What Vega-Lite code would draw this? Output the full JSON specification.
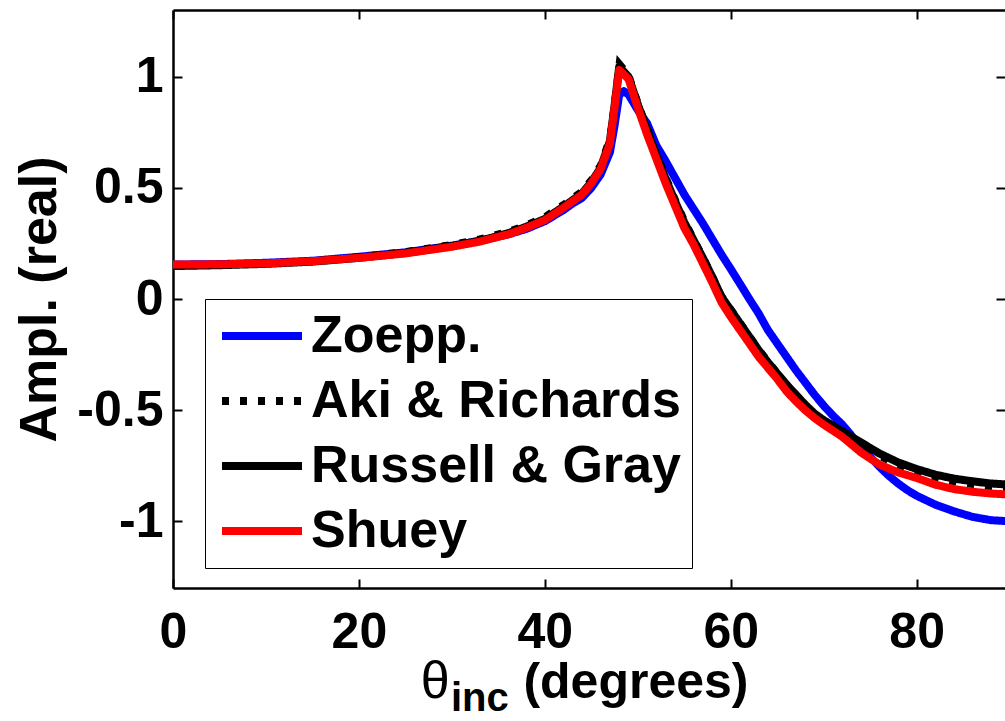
{
  "$schema": "https://vega.github.io/schema/vega-lite/v6.json",
  "width": 832,
  "height": 578,
  "autosize": "none",
  "padding": {"left": 173, "top": 10, "right": 0, "bottom": 133},
  "background": "white",
  "config": {
    "view": {"stroke": null},
    "axis": {"domainColor": "black", "domainWidth": 2.5, "tickColor": "black", "tickWidth": 2, "tickSize": -9, "labelFont": "Liberation Sans", "labelFontWeight": "bold", "labelFontSize": 50, "labelColor": "black", "grid": false, "titleFont": "Liberation Sans", "titleFontWeight": "bold", "titleFontSize": 52, "titleColor": "black", "labelOverlap": false, "labelFlush": false},
    "legend": {"orient": "none", "legendX": 32, "legendY": 289, "title": null, "symbolType": "M-2,0H2", "symbolSize": 1600, "symbolStrokeWidth": 8, "symbolOffset": 20, "labelFont": "Liberation Sans", "labelFontWeight": "bold", "labelFontSize": 52, "labelColor": "black", "labelOffset": 23, "labelLimit": 600, "padding": 11, "rowPadding": 13, "strokeColor": "black", "fillColor": "white", "cornerRadius": 0}
  },
  "datasets": {
    "curves": [
      {"angle": 0, "model": "Zoepp.", "amp": 0.155}, {"angle": 5, "model": "Zoepp.", "amp": 0.157}, {"angle": 10, "model": "Zoepp.", "amp": 0.163}, {"angle": 15, "model": "Zoepp.", "amp": 0.172}, {"angle": 20, "model": "Zoepp.", "amp": 0.19}, {"angle": 25, "model": "Zoepp.", "amp": 0.21}, {"angle": 30, "model": "Zoepp.", "amp": 0.24}, {"angle": 33, "model": "Zoepp.", "amp": 0.262}, {"angle": 36, "model": "Zoepp.", "amp": 0.29}, {"angle": 38, "model": "Zoepp.", "amp": 0.315}, {"angle": 40, "model": "Zoepp.", "amp": 0.35}, {"angle": 42, "model": "Zoepp.", "amp": 0.4}, {"angle": 43, "model": "Zoepp.", "amp": 0.43}, {"angle": 44, "model": "Zoepp.", "amp": 0.455}, {"angle": 45, "model": "Zoepp.", "amp": 0.5}, {"angle": 46, "model": "Zoepp.", "amp": 0.56}, {"angle": 47, "model": "Zoepp.", "amp": 0.66}, {"angle": 47.5, "model": "Zoepp.", "amp": 0.78}, {"angle": 48, "model": "Zoepp.", "amp": 0.92}, {"angle": 48.5, "model": "Zoepp.", "amp": 0.935}, {"angle": 49, "model": "Zoepp.", "amp": 0.92}, {"angle": 50, "model": "Zoepp.", "amp": 0.85}, {"angle": 51, "model": "Zoepp.", "amp": 0.79}, {"angle": 52, "model": "Zoepp.", "amp": 0.69}, {"angle": 53, "model": "Zoepp.", "amp": 0.62}, {"angle": 54, "model": "Zoepp.", "amp": 0.545}, {"angle": 55, "model": "Zoepp.", "amp": 0.47}, {"angle": 56, "model": "Zoepp.", "amp": 0.405}, {"angle": 57, "model": "Zoepp.", "amp": 0.34}, {"angle": 58, "model": "Zoepp.", "amp": 0.27}, {"angle": 59, "model": "Zoepp.", "amp": 0.2}, {"angle": 60, "model": "Zoepp.", "amp": 0.135}, {"angle": 61, "model": "Zoepp.", "amp": 0.068}, {"angle": 62, "model": "Zoepp.", "amp": 0.0}, {"angle": 63, "model": "Zoepp.", "amp": -0.065}, {"angle": 64, "model": "Zoepp.", "amp": -0.14}, {"angle": 65, "model": "Zoepp.", "amp": -0.2}, {"angle": 66, "model": "Zoepp.", "amp": -0.26}, {"angle": 67, "model": "Zoepp.", "amp": -0.32}, {"angle": 68, "model": "Zoepp.", "amp": -0.375}, {"angle": 69, "model": "Zoepp.", "amp": -0.43}, {"angle": 70, "model": "Zoepp.", "amp": -0.48}, {"angle": 71, "model": "Zoepp.", "amp": -0.525}, {"angle": 72, "model": "Zoepp.", "amp": -0.565}, {"angle": 73, "model": "Zoepp.", "amp": -0.615}, {"angle": 74, "model": "Zoepp.", "amp": -0.665}, {"angle": 75, "model": "Zoepp.", "amp": -0.71}, {"angle": 76, "model": "Zoepp.", "amp": -0.755}, {"angle": 77, "model": "Zoepp.", "amp": -0.795}, {"angle": 78, "model": "Zoepp.", "amp": -0.83}, {"angle": 79, "model": "Zoepp.", "amp": -0.86}, {"angle": 80, "model": "Zoepp.", "amp": -0.885}, {"angle": 82, "model": "Zoepp.", "amp": -0.925}, {"angle": 84, "model": "Zoepp.", "amp": -0.955}, {"angle": 86, "model": "Zoepp.", "amp": -0.98}, {"angle": 88, "model": "Zoepp.", "amp": -0.995}, {"angle": 90, "model": "Zoepp.", "amp": -1.0},

      {"angle": 0, "model": "Aki & Richards", "amp": 0.152}, {"angle": 5, "model": "Aki & Richards", "amp": 0.155}, {"angle": 10, "model": "Aki & Richards", "amp": 0.161}, {"angle": 15, "model": "Aki & Richards", "amp": 0.172}, {"angle": 20, "model": "Aki & Richards", "amp": 0.19}, {"angle": 25, "model": "Aki & Richards", "amp": 0.213}, {"angle": 30, "model": "Aki & Richards", "amp": 0.245}, {"angle": 33, "model": "Aki & Richards", "amp": 0.27}, {"angle": 36, "model": "Aki & Richards", "amp": 0.303}, {"angle": 38, "model": "Aki & Richards", "amp": 0.333}, {"angle": 40, "model": "Aki & Richards", "amp": 0.37}, {"angle": 42, "model": "Aki & Richards", "amp": 0.425}, {"angle": 43, "model": "Aki & Richards", "amp": 0.455}, {"angle": 44, "model": "Aki & Richards", "amp": 0.485}, {"angle": 45, "model": "Aki & Richards", "amp": 0.537}, {"angle": 46, "model": "Aki & Richards", "amp": 0.603}, {"angle": 47, "model": "Aki & Richards", "amp": 0.725}, {"angle": 47.5, "model": "Aki & Richards", "amp": 0.885}, {"angle": 48, "model": "Aki & Richards", "amp": 1.06}, {"angle": 49, "model": "Aki & Richards", "amp": 1.01}, {"angle": 50, "model": "Aki & Richards", "amp": 0.885}, {"angle": 51, "model": "Aki & Richards", "amp": 0.77}, {"angle": 52, "model": "Aki & Richards", "amp": 0.655}, {"angle": 53, "model": "Aki & Richards", "amp": 0.55}, {"angle": 54, "model": "Aki & Richards", "amp": 0.45}, {"angle": 55, "model": "Aki & Richards", "amp": 0.355}, {"angle": 56, "model": "Aki & Richards", "amp": 0.272}, {"angle": 57, "model": "Aki & Richards", "amp": 0.19}, {"angle": 58, "model": "Aki & Richards", "amp": 0.105}, {"angle": 59, "model": "Aki & Richards", "amp": 0.015}, {"angle": 60, "model": "Aki & Richards", "amp": -0.045}, {"angle": 61, "model": "Aki & Richards", "amp": -0.105}, {"angle": 62, "model": "Aki & Richards", "amp": -0.165}, {"angle": 63, "model": "Aki & Richards", "amp": -0.225}, {"angle": 64, "model": "Aki & Richards", "amp": -0.28}, {"angle": 65, "model": "Aki & Richards", "amp": -0.332}, {"angle": 66, "model": "Aki & Richards", "amp": -0.383}, {"angle": 67, "model": "Aki & Richards", "amp": -0.43}, {"angle": 68, "model": "Aki & Richards", "amp": -0.477}, {"angle": 69, "model": "Aki & Richards", "amp": -0.518}, {"angle": 70, "model": "Aki & Richards", "amp": -0.55}, {"angle": 72, "model": "Aki & Richards", "amp": -0.605}, {"angle": 74, "model": "Aki & Richards", "amp": -0.655}, {"angle": 76, "model": "Aki & Richards", "amp": -0.707}, {"angle": 78, "model": "Aki & Richards", "amp": -0.748}, {"angle": 80, "model": "Aki & Richards", "amp": -0.778}, {"angle": 82, "model": "Aki & Richards", "amp": -0.803}, {"angle": 84, "model": "Aki & Richards", "amp": -0.822}, {"angle": 86, "model": "Aki & Richards", "amp": -0.835}, {"angle": 88, "model": "Aki & Richards", "amp": -0.845}, {"angle": 90, "model": "Aki & Richards", "amp": -0.85},

      {"angle": 0, "model": "Russell & Gray", "amp": 0.148}, {"angle": 5, "model": "Russell & Gray", "amp": 0.152}, {"angle": 10, "model": "Russell & Gray", "amp": 0.158}, {"angle": 15, "model": "Russell & Gray", "amp": 0.168}, {"angle": 20, "model": "Russell & Gray", "amp": 0.185}, {"angle": 25, "model": "Russell & Gray", "amp": 0.207}, {"angle": 30, "model": "Russell & Gray", "amp": 0.238}, {"angle": 33, "model": "Russell & Gray", "amp": 0.262}, {"angle": 36, "model": "Russell & Gray", "amp": 0.295}, {"angle": 38, "model": "Russell & Gray", "amp": 0.325}, {"angle": 40, "model": "Russell & Gray", "amp": 0.36}, {"angle": 42, "model": "Russell & Gray", "amp": 0.415}, {"angle": 43, "model": "Russell & Gray", "amp": 0.445}, {"angle": 44, "model": "Russell & Gray", "amp": 0.475}, {"angle": 45, "model": "Russell & Gray", "amp": 0.525}, {"angle": 46, "model": "Russell & Gray", "amp": 0.59}, {"angle": 47, "model": "Russell & Gray", "amp": 0.71}, {"angle": 47.5, "model": "Russell & Gray", "amp": 0.87}, {"angle": 48, "model": "Russell & Gray", "amp": 1.045}, {"angle": 49, "model": "Russell & Gray", "amp": 1.0}, {"angle": 50, "model": "Russell & Gray", "amp": 0.875}, {"angle": 51, "model": "Russell & Gray", "amp": 0.76}, {"angle": 52, "model": "Russell & Gray", "amp": 0.645}, {"angle": 53, "model": "Russell & Gray", "amp": 0.54}, {"angle": 54, "model": "Russell & Gray", "amp": 0.44}, {"angle": 55, "model": "Russell & Gray", "amp": 0.345}, {"angle": 56, "model": "Russell & Gray", "amp": 0.265}, {"angle": 57, "model": "Russell & Gray", "amp": 0.185}, {"angle": 58, "model": "Russell & Gray", "amp": 0.1}, {"angle": 59, "model": "Russell & Gray", "amp": 0.01}, {"angle": 60, "model": "Russell & Gray", "amp": -0.05}, {"angle": 61, "model": "Russell & Gray", "amp": -0.11}, {"angle": 62, "model": "Russell & Gray", "amp": -0.17}, {"angle": 63, "model": "Russell & Gray", "amp": -0.23}, {"angle": 64, "model": "Russell & Gray", "amp": -0.285}, {"angle": 65, "model": "Russell & Gray", "amp": -0.335}, {"angle": 66, "model": "Russell & Gray", "amp": -0.385}, {"angle": 67, "model": "Russell & Gray", "amp": -0.43}, {"angle": 68, "model": "Russell & Gray", "amp": -0.475}, {"angle": 69, "model": "Russell & Gray", "amp": -0.515}, {"angle": 70, "model": "Russell & Gray", "amp": -0.545}, {"angle": 72, "model": "Russell & Gray", "amp": -0.595}, {"angle": 74, "model": "Russell & Gray", "amp": -0.645}, {"angle": 76, "model": "Russell & Gray", "amp": -0.695}, {"angle": 78, "model": "Russell & Gray", "amp": -0.735}, {"angle": 80, "model": "Russell & Gray", "amp": -0.765}, {"angle": 82, "model": "Russell & Gray", "amp": -0.79}, {"angle": 84, "model": "Russell & Gray", "amp": -0.808}, {"angle": 86, "model": "Russell & Gray", "amp": -0.82}, {"angle": 88, "model": "Russell & Gray", "amp": -0.83}, {"angle": 90, "model": "Russell & Gray", "amp": -0.835},

      {"angle": 0, "model": "Shuey", "amp": 0.155}, {"angle": 5, "model": "Shuey", "amp": 0.156}, {"angle": 10, "model": "Shuey", "amp": 0.16}, {"angle": 15, "model": "Shuey", "amp": 0.17}, {"angle": 20, "model": "Shuey", "amp": 0.185}, {"angle": 25, "model": "Shuey", "amp": 0.205}, {"angle": 30, "model": "Shuey", "amp": 0.235}, {"angle": 33, "model": "Shuey", "amp": 0.258}, {"angle": 36, "model": "Shuey", "amp": 0.29}, {"angle": 38, "model": "Shuey", "amp": 0.32}, {"angle": 40, "model": "Shuey", "amp": 0.355}, {"angle": 42, "model": "Shuey", "amp": 0.41}, {"angle": 43, "model": "Shuey", "amp": 0.44}, {"angle": 44, "model": "Shuey", "amp": 0.47}, {"angle": 45, "model": "Shuey", "amp": 0.52}, {"angle": 46, "model": "Shuey", "amp": 0.585}, {"angle": 47, "model": "Shuey", "amp": 0.7}, {"angle": 47.5, "model": "Shuey", "amp": 0.86}, {"angle": 48, "model": "Shuey", "amp": 1.03}, {"angle": 49, "model": "Shuey", "amp": 0.99}, {"angle": 50, "model": "Shuey", "amp": 0.86}, {"angle": 51, "model": "Shuey", "amp": 0.74}, {"angle": 52, "model": "Shuey", "amp": 0.63}, {"angle": 53, "model": "Shuey", "amp": 0.52}, {"angle": 54, "model": "Shuey", "amp": 0.42}, {"angle": 55, "model": "Shuey", "amp": 0.32}, {"angle": 56, "model": "Shuey", "amp": 0.245}, {"angle": 57, "model": "Shuey", "amp": 0.16}, {"angle": 58, "model": "Shuey", "amp": 0.075}, {"angle": 59, "model": "Shuey", "amp": -0.015}, {"angle": 60, "model": "Shuey", "amp": -0.08}, {"angle": 61, "model": "Shuey", "amp": -0.14}, {"angle": 62, "model": "Shuey", "amp": -0.2}, {"angle": 63, "model": "Shuey", "amp": -0.26}, {"angle": 64, "model": "Shuey", "amp": -0.31}, {"angle": 65, "model": "Shuey", "amp": -0.36}, {"angle": 66, "model": "Shuey", "amp": -0.415}, {"angle": 67, "model": "Shuey", "amp": -0.46}, {"angle": 68, "model": "Shuey", "amp": -0.5}, {"angle": 69, "model": "Shuey", "amp": -0.535}, {"angle": 70, "model": "Shuey", "amp": -0.565}, {"angle": 72, "model": "Shuey", "amp": -0.62}, {"angle": 74, "model": "Shuey", "amp": -0.69}, {"angle": 76, "model": "Shuey", "amp": -0.745}, {"angle": 78, "model": "Shuey", "amp": -0.78}, {"angle": 80, "model": "Shuey", "amp": -0.805}, {"angle": 82, "model": "Shuey", "amp": -0.835}, {"angle": 84, "model": "Shuey", "amp": -0.855}, {"angle": 86, "model": "Shuey", "amp": -0.867}, {"angle": 88, "model": "Shuey", "amp": -0.875}, {"angle": 90, "model": "Shuey", "amp": -0.88}
    ]
  },
  "data": {"name": "curves"},
  "resolve": {"axis": {"x": "independent", "y": "independent"}},
  "layer": [
    {
      "transform": [{"filter": "datum.model === 'Zoepp.'"}],
      "mark": {"type": "line", "strokeWidth": 8, "strokeJoin": "round"},
      "encoding": {
        "x": {"field": "angle", "type": "quantitative", "scale": {"domain": [0, 89.5], "nice": false, "zero": false}, "axis": {"orient": "bottom", "values": [0, 20, 40, 60, 80], "title": null, "labelPadding": 28}},
        "y": {"field": "amp", "type": "quantitative", "scale": {"domain": [-1.3, 1.3], "nice": false, "zero": false}, "axis": {"orient": "left", "values": [-1, -0.5, 0, 0.5, 1], "title": "Ampl. (real)", "labelPadding": 19, "titlePadding": 10, "labelExpr": "toString(datum.value)"}},
        "color": {"field": "model", "type": "nominal", "scale": {"domain": ["Zoepp.", "Aki & Richards", "Russell & Gray", "Shuey"], "range": ["#0000ff", "#000000", "#000000", "#ff0000"]}},
        "strokeDash": {"field": "model", "type": "nominal", "scale": {"domain": ["Zoepp.", "Aki & Richards", "Russell & Gray", "Shuey"], "range": [[1, 0], [7, 11], [1, 0], [1, 0]]}}
      }
    },
    {
      "transform": [{"filter": "datum.model === 'Aki & Richards'"}],
      "mark": {"type": "line", "strokeWidth": 7},
      "encoding": {
        "x": {"field": "angle", "type": "quantitative", "scale": {"domain": [0, 89.5], "nice": false, "zero": false}, "axis": null},
        "y": {"field": "amp", "type": "quantitative", "scale": {"domain": [-1.3, 1.3], "nice": false, "zero": false}, "axis": null},
        "color": {"field": "model", "type": "nominal"},
        "strokeDash": {"field": "model", "type": "nominal"}
      }
    },
    {
      "transform": [{"filter": "datum.model === 'Russell & Gray'"}],
      "mark": {"type": "line", "strokeWidth": 8, "strokeJoin": "round"},
      "encoding": {
        "x": {"field": "angle", "type": "quantitative", "scale": {"domain": [0, 89.5], "nice": false, "zero": false}, "axis": null},
        "y": {"field": "amp", "type": "quantitative", "scale": {"domain": [-1.3, 1.3], "nice": false, "zero": false}, "axis": null},
        "color": {"field": "model", "type": "nominal"},
        "strokeDash": {"field": "model", "type": "nominal"}
      }
    },
    {
      "transform": [{"filter": "datum.model === 'Shuey'"}],
      "mark": {"type": "line", "strokeWidth": 8, "strokeJoin": "round"},
      "encoding": {
        "x": {"field": "angle", "type": "quantitative", "scale": {"domain": [0, 89.5], "nice": false, "zero": false}, "axis": null},
        "y": {"field": "amp", "type": "quantitative", "scale": {"domain": [-1.3, 1.3], "nice": false, "zero": false}, "axis": null},
        "color": {"field": "model", "type": "nominal"},
        "strokeDash": {"field": "model", "type": "nominal"}
      }
    },
    {
      "mark": {"type": "point", "opacity": 0},
      "encoding": {
        "x": {"field": "angle", "type": "quantitative", "scale": {"domain": [0, 89.5], "nice": false, "zero": false}, "axis": {"orient": "top", "values": [0, 20, 40, 60, 80], "labels": false, "title": null}},
        "y": {"field": "amp", "type": "quantitative", "scale": {"domain": [-1.3, 1.3], "nice": false, "zero": false}, "axis": {"orient": "right", "values": [-1, -0.5, 0, 0.5, 1], "labels": false, "title": null, "domain": false}}
      }
    },
    {
      "data": {"values": [{"label": "θ"}]},
      "mark": {"type": "text", "font": "Liberation Sans", "fontSize": 52, "fontWeight": "normal", "align": "center", "baseline": "alphabetic", "color": "black"},
      "encoding": {
        "x": {"datum": 28.2, "type": "quantitative", "scale": {"domain": [0, 89.5], "nice": false, "zero": false}, "axis": null},
        "y": {"datum": -1.795, "type": "quantitative", "scale": {"domain": [-1.3, 1.3], "nice": false, "zero": false}, "axis": null},
        "text": {"field": "label"}
      }
    },
    {
      "data": {"values": [{"label": "inc"}]},
      "mark": {"type": "text", "font": "Liberation Sans", "fontSize": 40, "fontWeight": "bold", "align": "center", "baseline": "alphabetic", "color": "black"},
      "encoding": {
        "x": {"datum": 33.0, "type": "quantitative", "scale": {"domain": [0, 89.5], "nice": false, "zero": false}, "axis": null},
        "y": {"datum": -1.855, "type": "quantitative", "scale": {"domain": [-1.3, 1.3], "nice": false, "zero": false}, "axis": null},
        "text": {"field": "label"}
      }
    },
    {
      "data": {"values": [{"label": "(degrees)"}]},
      "mark": {"type": "text", "font": "Liberation Sans", "fontSize": 50, "fontWeight": "bold", "align": "center", "baseline": "alphabetic", "color": "black"},
      "encoding": {
        "x": {"datum": 49.8, "type": "quantitative", "scale": {"domain": [0, 89.5], "nice": false, "zero": false}, "axis": null},
        "y": {"datum": -1.795, "type": "quantitative", "scale": {"domain": [-1.3, 1.3], "nice": false, "zero": false}, "axis": null},
        "text": {"field": "label"}
      }
    }
  ]
}
